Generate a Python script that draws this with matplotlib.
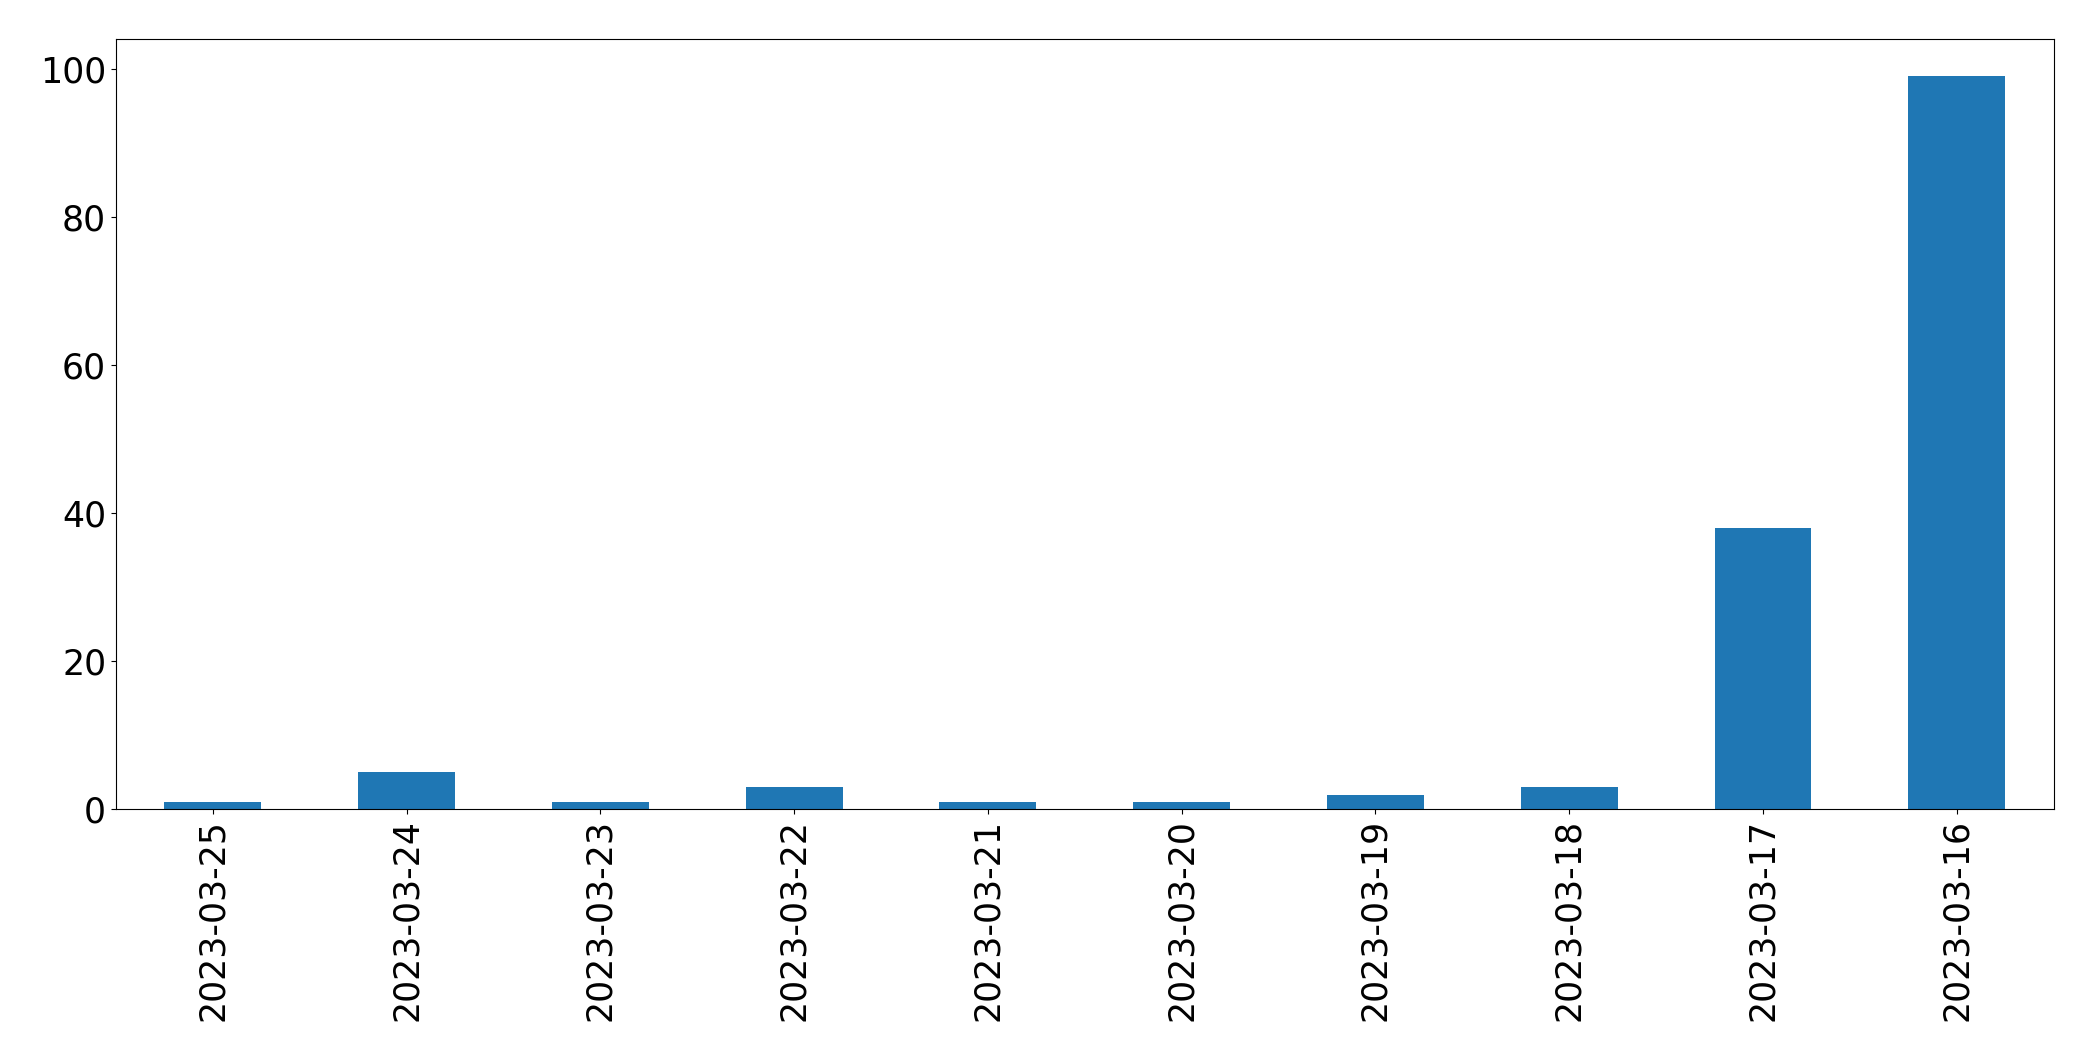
import matplotlib
matplotlib.use('Agg')
from matplotlib import pyplot as plt

dates = ['2023-03-25', '2023-03-24', '2023-03-23', '2023-03-22', '2023-03-21',
         '2023-03-20', '2023-03-19', '2023-03-18', '2023-03-17', '2023-03-16']
counts = [1, 5, 1, 3, 1, 1, 2, 3, 38, 99]

fig, ax = plt.subplots(figsize=(20.93, 10.61), dpi=100)
fig.subplots_adjust(left=0.0554, right=0.9812, top=0.9628, bottom=0.2372)

ax.bar(range(len(dates)), counts, width=0.5, color='#1f77b4')
ax.set_xlim(-0.5, len(dates) - 0.5)
ax.set_xticks(range(len(dates)))
ax.set_xticklabels(dates, rotation=90)
ax.tick_params(labelsize=25)

fig.savefig('out.png', dpi=100)
